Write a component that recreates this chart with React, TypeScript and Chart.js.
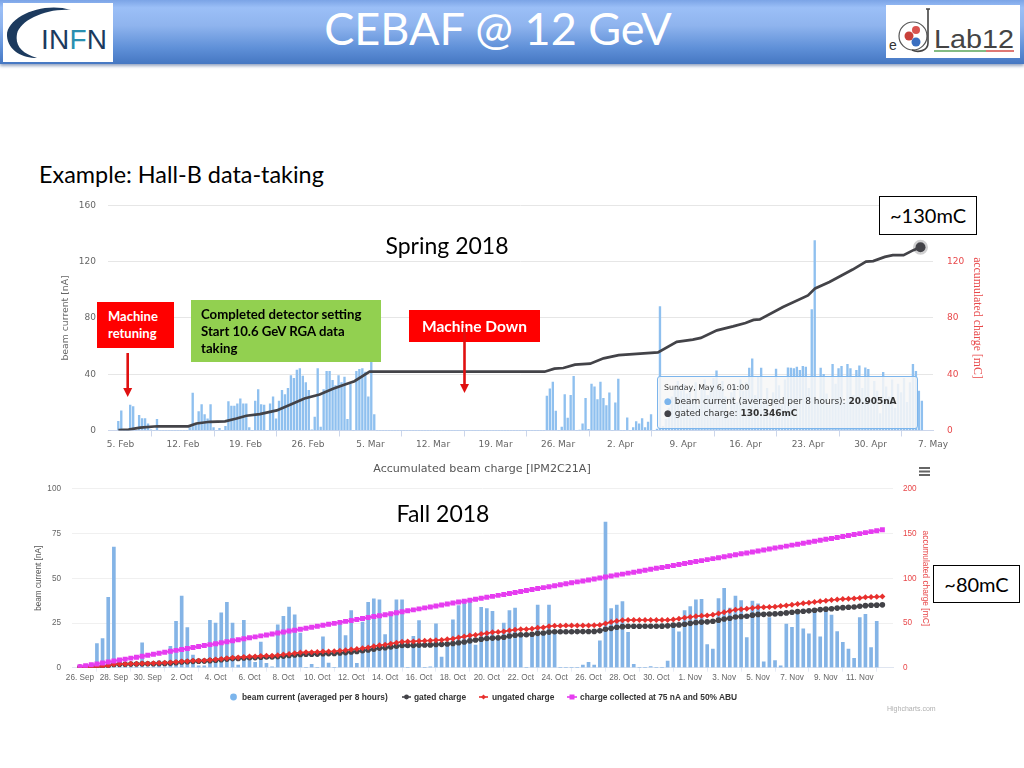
import React, { useEffect, useRef } from "react";
import { Chart, registerables } from "chart.js";

Chart.register(...registerables);

// ---------- Spring 2018 ----------
const springTickLabels = ["5. Feb","12. Feb","19. Feb","26. Feb","5. Mar","12. Mar","19. Mar","26. Mar","2. Apr","9. Apr","16. Apr","23. Apr","30. Apr","7. May"];
// beam current [nA], one value per 8 hour bin
const springBeam = [
  6.6,14,0,0,18,17,0,10.7,8.5,8.5,
  4.7,0.5,0,8,0,0,0,0,0,0,
  0,0,0,0,2,26.6,5,13.5,18.5,11.4,
  8.3,18.5,2,0,1.5,0,3,20.6,17.3,17.3,
  19,22.5,19,19,2,0,21,29,18.5,18,
  0,19,24,8.3,21,28.5,25.6,30,39,37,
  43,44,38.7,34,28.5,0.5,9.5,44,2.4,29,
  42,42,35.6,32,39,34,38,8,33,0,
  42,43.4,44,41.5,24,52,11.4,0,0,0,
  0,0,0,0,0,0,0,0,0,0,
  0,0,0,0,0,0,0,0,0,0,
  0,0,0,0,0,0,0,0,0,0,
  0,0,0,0,0,0,0,0,0,0,
  0,0,0,0,0,0,0,0,0,0,
  0,0,0,0,24.5,29.7,34.4,13.8,0,2.4,
  25.6,8.8,25,38.5,0,0.3,4.7,22.8,0.8,33,
  31,22,34.4,22.8,17.8,26.8,0,19.7,36.6,0,
  0,9,0,2,6.4,4.7,8.5,2,6,11.4,
  0,1,88,3,8,16,24,31,35,28,
  33,26,30,22,34,18,29,36,25,32,
  37,42.5,30,35,24,12,27,33,20,36,
  28,34,44.4,51,25,38,44.4,21,30,14,
  27,43.7,32,18,36,44.6,44.4,44,45,42.7,
  45.6,45,30,86,135,22,44.4,40,26,18,
  47,33,44,45.6,20,47,44,25,42.7,46,
  30,44.6,43.4,22,35,28,12,41.3,31,24,
  36,16,33,27,37,20,34,47,42,28,20.9,
];
// gated charge [mC]: day offset from 5 Feb, and the reading there
const springChargeDays = [-0.24,0.9,2.2,4.1,7.6,8.5,10,11.7,13,14.1,15.6,17.5,19,20.6,22.3,23.8,25.3,26.2,27.9,47.5,48.6,49.6,50.9,52.6,54.1,55.8,57.8,60.2,62.3,64.1,65,66.8,68.6,70,70.9,71.6,74.2,77,77.8,79.4,82,83.5,84.3,85.6,86.5,87.7,88.8,89.6];
const springCharge = [0.3,0.6,2,3,3,5,6.2,6.5,8.5,10.5,11.6,14.3,18.3,22.8,25.6,29.7,33,35,41.8,41.8,44,44.4,46.8,47.5,51.3,53.6,54.4,55.5,63,64.6,65.8,71.2,74,76.4,78.6,79,87.8,96,101,105.6,114.4,120,120.4,123.4,124.6,124.6,128.2,130.3];

// ---------- Fall 2018 ----------
const fallTickLabels = ["26. Sep","28. Sep","30. Sep","2. Oct","4. Oct","6. Oct","8. Oct","10. Oct","12. Oct","14. Oct","16. Oct","18. Oct","20. Oct","22. Oct","24. Oct","26. Oct","28. Oct","30. Oct","1. Nov","3. Nov","5. Nov","7. Nov","9. Nov","11. Nov"];
const fallBeam = [
  0,0,0,13.5,16.3,39.4,67.5,0,0,0,
  0,13.9,0,0.5,4,0.5,12,26,40,22.4,
  7,1,1,26.5,25,30.7,36.5,25,1.5,26.5,
  6,3,14.4,2.4,0.5,24,28.7,33.9,29.6,19.4,
  0,1.9,0,17.2,2.6,0,24.6,18,32,2.4,
  25.5,36.6,38.5,38,18.5,31,38,38,0,17.6,
  26.3,0,0.5,24.6,6,12.6,26.8,34.8,36.3,38,
  12.6,33.7,33,31.5,15.4,25,32,33.3,18,0,
  19,35,19,35,20,0,0,0,0,1.5,
  3,1.5,15,81.4,33,35,37,19.8,1.9,0,
  0,0.6,0,0,3.7,24.6,20,32,34.2,38,
  38.3,13,10.4,38.7,44.4,33.3,40,37.6,16.8,37.2,
  35.7,3.3,28,4,1,24.4,22.6,31,21.8,19,
  32,17.2,33.5,29.4,20.2,14.2,10.4,5.2,28,29.8,
  11.3,25.9,
];
const fallGated = [
  0.5,0.7,0.8,1,1.4,2.2,3.7,3.8,3.9,4,
  4.1,4.3,4.4,4.5,4.7,4.8,5.1,5.6,6.3,6.7,
  7.1,7.3,7.4,7.9,8.4,8.9,9.6,10.2,10.4,10.9,
  11.1,11.3,11.8,11.9,12,12.4,13,13.6,14.3,14.8,
  15,15.1,15.2,15.6,15.8,15.9,16.4,16.9,17.7,18.1,
  18.9,19.8,20.6,21.9,22.4,23.2,24,24.8,24.9,25,
  25.3,25.4,25.5,25.9,26.1,26.5,27.1,27.9,28.8,30,
  31,31.9,32.6,33.1,33.4,34,35.4,36.3,36.8,36.9,
  37.4,38.4,38.8,39.8,40.3,40.3,40.3,40.3,40.4,40.4,
  40.5,40.6,41.2,43,44,45.2,45.9,46.3,46.3,46.3,
  46.4,46.4,46.4,46.5,46.8,47.6,47.9,48.6,49.6,50.5,
  51,51.3,51.9,53.2,54.4,55.4,56.7,57.2,57.6,58.8,
  59.6,59.7,60,60.2,60.7,61.3,62,62.7,63.2,63.6,
  64.3,65,65.5,66,66.7,67.2,67.6,67.9,68.7,69.4,
  69.8,70,70.3,
];
const fallUngated = [
  0.5,0.7,0.9,1.1,1.5,2.3,3.9,4,4.1,4.3,
  4.4,4.6,4.8,5,5.3,5.6,5.9,6.3,6.9,7.3,
  7.7,7.9,8.1,8.7,9.2,9.8,10.5,11.2,11.5,12,
  12.4,12.6,13.2,13.4,13.5,14,14.7,15.4,16.2,16.9,
  17.2,17.4,17.5,18,18.2,18.4,19,19.6,20.4,20.9,
  21.7,22.7,23.9,25.2,25.7,26.9,28,29,29.2,29.4,
  29.9,30.1,30.4,30.8,31.1,31.7,32.5,33.7,34.8,35.9,
  36.6,37.8,38.6,39.6,40,40.6,41.6,42.4,43,43.1,
  43.6,44.7,45.1,46.4,47,47,47.1,47.1,47.2,47.2,
  47.3,47.4,47.9,49.5,51,52.3,53,53.3,53.3,53.3,
  53.3,53.4,53.4,53.4,53.5,54,54.8,55.8,56.8,57.6,
  58,58.5,59.3,60.7,62,63.4,64.8,65.5,66,66.9,
  67.5,67.6,68,68.3,68.9,69.7,70.5,71.3,72,72.6,
  73.4,74.2,75,75.7,76.3,76.9,77.2,77.5,78.1,78.7,
  79.1,79.4,79.7,
];
const fallCollected = [
  1,2.1,3.2,4.2,5.3,6.4,7.5,8.6,9.6,10.7,
  11.8,12.9,14,15,16.1,17.2,18.3,19.4,20.4,21.5,
  22.6,23.7,24.8,25.8,26.9,28,29.1,30.2,31.2,32.3,
  33.4,34.5,35.6,36.6,37.7,38.8,39.9,41,42,43.1,
  44.2,45.3,46.4,47.4,48.5,49.6,50.7,51.8,52.8,53.9,
  55,56.1,57.2,58.2,59.3,60.4,61.5,62.6,63.6,64.7,
  65.8,66.9,68,69,70.1,71.2,72.3,73.4,74.4,75.5,
  76.6,77.7,78.8,79.8,80.9,82,83.1,84.2,85.2,86.3,
  87.4,88.5,89.6,90.6,91.7,92.8,93.9,95,96,97.1,
  98.2,99.3,100.4,101.4,102.5,103.6,104.7,105.8,106.8,107.9,
  109,110.1,111.2,112.2,113.3,114.4,115.5,116.6,117.6,118.7,
  119.8,120.9,122,123,124.1,125.2,126.3,127.4,128.4,129.5,
  130.6,131.7,132.8,133.8,134.9,136,137.1,138.2,139.2,140.3,
  141.4,142.5,143.6,144.6,145.7,146.8,147.9,149,150,151.1,
  152.2,153.3,154.4,
];

const BLUE = "#7cb5ec";
const DARK = "#434348";
const RED = "#e8302e";
const MAGENTA = "#e63cf0";
const AXIS_RED = "#e8484a";

function abs(l: number, t: number, w?: number, h?: number): React.CSSProperties {
  return { position: "absolute", left: l, top: t, width: w, height: h };
}

export default function App() {
  const springRef = useRef<HTMLCanvasElement>(null);
  const fallRef = useRef<HTMLCanvasElement>(null);

  useEffect(() => {
    const lastSpring = springCharge.length - 1;
    const springChart = new Chart(springRef.current!, {
      type: "bar",
      data: {
        datasets: [
          {
            type: "line",
            label: "gated charge",
            data: springChargeDays.map((d, i) => ({ x: d, y: springCharge[i] })),
            yAxisID: "y1",
            borderColor: DARK,
            backgroundColor: DARK,
            borderWidth: 2.7,
            pointRadius: (c: any) => (c.dataIndex === lastSpring ? 5 : 0),
            pointBorderWidth: 5,
            pointBorderColor: "rgba(67,67,72,0.25)",
            pointBackgroundColor: DARK,
            order: 1,
          },
          {
            type: "bar",
            label: "beam current (averaged per 8 hours)",
            data: springBeam.map((v, i) => ({ x: (i - 0.74) / 3, y: v })),
            yAxisID: "y",
            backgroundColor: "#8fc0ef",
            barThickness: 1.7,
            order: 2,
          },
        ],
      } as any,
      options: {
        responsive: false,
        animation: false,
        layout: { padding: { top: 1 } },
        plugins: { legend: { display: false }, tooltip: { enabled: false } },
        scales: {
          x: {
            type: "linear",
            min: -1.4,
            max: 91,
            offset: false,
            afterBuildTicks: (s: any) => { s.ticks = springTickLabels.map((_, i) => ({ value: i * 7 })); },
            afterFit: (s: any) => { s.height = 45.5; },
            grid: { drawOnChartArea: false, drawTicks: true, tickLength: 6, color: "#ccd6eb" },
            border: { color: "#ccd6eb" },
            ticks: {
              autoSkip: false, maxRotation: 0, padding: 3, color: "#666666",
              font: { family: "DejaVu Sans", size: 9 },
              callback: (_v: any, i: number) => springTickLabels[i],
            },
          },
          y: {
            position: "left", min: 0, max: 160,
            afterFit: (s: any) => { s.width = 48; },
            grid: { color: "#e6e6e6", drawTicks: false },
            border: { display: false },
            ticks: { stepSize: 40, padding: 12, color: "#666666", font: { family: "DejaVu Sans", size: 9 } },
            title: { display: true, text: "beam current [nA]", color: "#666666", padding: 0, font: { family: "DejaVu Sans", size: 9.3 } },
          },
          y1: {
            position: "right", min: 0, max: 160,
            afterFit: (s: any) => { s.width = 51; },
            grid: { drawOnChartArea: false, drawTicks: false },
            border: { display: false },
            ticks: {
              stepSize: 40, padding: 14, color: AXIS_RED, font: { family: "DejaVu Sans", size: 9 },
              callback: (v: any) => (v === 160 ? "" : String(v)),
            },
            title: { display: true, text: "accumulated charge [mC]", color: AXIS_RED, padding: 0, font: { family: "Liberation Serif", size: 11.8 } },
          },
        },
      } as any,
    });

    const pts = (arr: number[]) => arr.map((v, i) => ({ x: i / 3, y: v }));
    const fallChart = new Chart(fallRef.current!, {
      type: "bar",
      data: {
        datasets: [
          {
            type: "line", label: "charge collected at 75 nA and 50% ABU", data: pts(fallCollected), yAxisID: "y1",
            borderColor: MAGENTA, backgroundColor: MAGENTA, borderWidth: 2, pointStyle: "rect", pointRadius: 3.5, pointBorderWidth: 0, order: 1,
          },
          {
            type: "line", label: "ungated charge", data: pts(fallUngated), yAxisID: "y1",
            borderColor: RED, backgroundColor: RED, borderWidth: 1.6, pointStyle: "rectRot", pointRadius: 3, pointBorderWidth: 0, order: 2,
          },
          {
            type: "line", label: "gated charge", data: pts(fallGated), yAxisID: "y1",
            borderColor: DARK, backgroundColor: DARK, borderWidth: 1.6, pointStyle: "circle", pointRadius: 2.8, pointBorderWidth: 0, order: 3,
          },
          {
            type: "bar", label: "beam current (averaged per 8 hours)", data: pts(fallBeam), yAxisID: "y",
            backgroundColor: "#84b4e6", barThickness: 3, order: 4,
          },
        ],
      } as any,
      options: {
        responsive: false,
        animation: false,
        layout: { padding: { top: 0.7 } },
        plugins: { legend: { display: false }, tooltip: { enabled: false } },
        scales: {
          x: {
            type: "linear", min: -0.47, max: 47.96, offset: false,
            afterBuildTicks: (s: any) => { s.ticks = fallTickLabels.map((_, i) => ({ value: i * 2 })); },
            afterFit: (s: any) => { s.height = 27.3; },
            grid: { drawOnChartArea: false, drawTicks: true, tickLength: 4, color: "#e6ebf5" },
            border: { color: "#dfe5f0" },
            ticks: {
              autoSkip: false, maxRotation: 0, padding: 1.5, color: "#666666",
              font: { family: "Liberation Sans", size: 8.2 },
              callback: (_v: any, i: number) => fallTickLabels[i],
            },
          },
          y: {
            position: "left", min: 0, max: 100,
            afterFit: (s: any) => { s.width = 38; },
            grid: { color: "#f0f0f0", drawTicks: false },
            border: { display: false },
            ticks: { stepSize: 25, padding: 11, color: "#666666", font: { family: "Liberation Sans", size: 8.2 } },
            title: { display: true, text: "beam current [nA]", color: "#555555", padding: 0, font: { family: "Liberation Sans", size: 8.2 } },
          },
          y1: {
            position: "right", min: 0, max: 200,
            afterFit: (s: any) => { s.width = 37; },
            grid: { drawOnChartArea: false, drawTicks: false },
            border: { display: false },
            ticks: { stepSize: 50, padding: 10, color: AXIS_RED, font: { family: "Liberation Sans", size: 8.2 } },
            title: { display: true, text: "accumulated charge [mC]", color: AXIS_RED, padding: 0, font: { family: "Liberation Sans", size: 8.4 } },
          },
        },
      } as any,
    });

    return () => {
      springChart.destroy();
      fallChart.destroy();
    };
  }, []);

  const lato = "Lato, Carlito, sans-serif";
  const legendStyle: React.CSSProperties = { position: "absolute", top: 691, fontFamily: "Liberation Sans", fontWeight: 700, fontSize: 8.4, lineHeight: "12px", color: "#333333", whiteSpace: "nowrap" };

  return (
    <div style={{ position: "absolute", left: 0, top: 0, width: 1024, height: 768, overflow: "hidden", background: "#ffffff", fontFamily: lato }}>
      {/* Header band */}
      <div style={{ ...abs(0, 0, 1024, 64), background: "linear-gradient(#7ba4e6 0%, #9bbff7 12%, #8fb4ee 40%, #5f90d8 75%, #4577c2 100%)", boxShadow: "0 2px 3px rgba(60,90,140,0.55)" }} />
      <div style={{ ...abs(248, 0, 500, 56), textAlign: "center", color: "#ffffff", fontSize: 45, lineHeight: "56px", whiteSpace: "nowrap" }}>CEBAF @ 12 GeV</div>

      {/* INFN logo */}
      <svg style={abs(3, 3, 110, 59)} viewBox="0 0 110 59">
        <rect x="0" y="0" width="110" height="59" fill="#ffffff" />
        <path d="M 68 7 C 40 -2, 3 14, 4 33 C 5 48, 20 55, 34 55 C 18 50, 12 42, 14 31 C 17 17, 44 5, 68 7 Z" fill="#1c3a5e" />
        <text x="38" y="46" fontFamily="Liberation Sans" fontSize="28" fontWeight="400" fill="#1c3a5e" textLength="66">
          IN<tspan fill="#2a8fb0">F</tspan>N
        </text>
      </svg>

      {/* JLab logo */}
      <svg style={abs(886, 5, 134, 53)} viewBox="0 0 134 53">
        <rect x="0" y="0" width="134" height="53" fill="#ffffff" />
        <ellipse cx="27" cy="31" rx="14" ry="14" fill="none" stroke="#555" strokeWidth="1.2" />
        <circle cx="23" cy="31" r="4.5" fill="#c8403a" />
        <circle cx="30" cy="25" r="4" fill="#d9534f" />
        <circle cx="30" cy="37" r="4.5" fill="#3a6fc0" />
        <path d="M 40 4 L 44 4 M 42 4 L 42 38 C 42 46, 32 48, 26 45" fill="none" stroke="#444" strokeWidth="1.6" />
        <text x="3" y="45" fontFamily="Liberation Sans" fontSize="14" fill="#333">e</text>
        <text x="48" y="43" fontFamily="Liberation Sans" fontSize="26" fill="#444" textLength="80" lengthAdjust="spacingAndGlyphs">Lab12</text>
        <line x1="48" y1="46" x2="100" y2="46" stroke="#5aa55a" strokeWidth="1.4" />
        <line x1="100" y1="46" x2="128" y2="46" stroke="#d0403a" strokeWidth="1.4" />
      </svg>

      <div style={{ ...abs(39, 159), fontSize: 23.4, lineHeight: "30px", color: "#000", whiteSpace: "nowrap" }}>Example: Hall-B data-taking</div>

      <canvas ref={springRef} width={924} height={290} style={abs(60, 186, 924, 290)} />
      <canvas ref={fallRef} width={896} height={222} style={abs(34, 473, 896, 222)} />

      <div style={{ ...abs(342, 461, 280, 16), textAlign: "center", fontFamily: "DejaVu Sans", fontSize: 11.1, lineHeight: "16px", color: "#555555", whiteSpace: "nowrap" }}>Accumulated beam charge [IPM2C21A]</div>

      {/* Series tooltip */}
      <div style={{ ...abs(657, 376, 261, 53), boxSizing: "border-box", border: `1px solid ${BLUE}`, borderRadius: 3, background: "rgba(247,247,247,0.86)", fontFamily: "DejaVu Sans", color: "#333333", fontSize: 9, lineHeight: "12.5px", paddingLeft: 6, paddingTop: 5, whiteSpace: "nowrap" }}>
        <div style={{ fontSize: 7.8 }}>Sunday, May 6, 01:00</div>
        <div><span style={{ color: BLUE }}>●</span> beam current (averaged per 8 hours): <b>20.905nA</b></div>
        <div><span style={{ color: DARK }}>●</span> gated charge: <b>130.346mC</b></div>
      </div>

      {/* Annotations */}
      <div style={{ ...abs(97, 302, 77, 46), background: "#ff0000", color: "#fff", fontWeight: 700, fontSize: 13, lineHeight: "17px", padding: "6px 0 0 11px", boxSizing: "border-box" }}>Machine<br />retuning</div>
      <div style={{ ...abs(191, 300, 190, 62), background: "#92d050", color: "#000", fontWeight: 700, fontSize: 13.2, lineHeight: "17px", padding: "6px 0 0 10px", boxSizing: "border-box", whiteSpace: "nowrap" }}>Completed detector setting<br />Start 10.6 GeV RGA data<br />taking</div>
      <div style={{ ...abs(409, 310, 131, 32), background: "#ff0000", color: "#fff", fontWeight: 700, fontSize: 15.5, lineHeight: "32px", textAlign: "center", whiteSpace: "nowrap" }}>Machine Down</div>
      <svg style={abs(0, 0, 1024, 768)} viewBox="0 0 1024 768" pointerEvents="none">
        <line x1="127.7" y1="353" x2="127.7" y2="390" stroke="#e01010" strokeWidth="2.6" />
        <polygon points="123.2,388 132.2,388 127.7,397" fill="#e01010" />
        <line x1="464.5" y1="328" x2="464.5" y2="386" stroke="#e01010" strokeWidth="2.6" />
        <polygon points="460,384 469,384 464.5,393" fill="#e01010" />
      </svg>

      <div style={{ ...abs(347, 230, 200, 30), textAlign: "center", fontSize: 23, lineHeight: "30px", color: "#000" }}>Spring 2018</div>
      <div style={{ ...abs(343, 498, 200, 30), textAlign: "center", fontSize: 23, lineHeight: "30px", color: "#000" }}>Fall 2018</div>

      <div style={{ ...abs(879, 196, 98, 39), boxSizing: "border-box", border: "1px solid #000", background: "#fff", textAlign: "center", fontSize: 20, lineHeight: "37px", color: "#000" }}>~130mC</div>
      <div style={{ ...abs(933, 565, 87, 38), boxSizing: "border-box", border: "1px solid #000", background: "#fff", textAlign: "center", fontSize: 20, lineHeight: "36px", color: "#000" }}>~80mC</div>

      {/* Menu icon */}
      <svg style={abs(918, 466, 13, 11)} viewBox="0 0 13 11">
        <rect x="1" y="1" width="11" height="2" fill="#666" />
        <rect x="1" y="4.5" width="11" height="2" fill="#666" />
        <rect x="1" y="8" width="11" height="2" fill="#666" />
      </svg>

      {/* Legend of the fall chart */}
      <svg style={abs(228, 691, 360, 12)} viewBox="228 691 360 12">
        <circle cx="233.5" cy="697" r="3.4" fill={BLUE} />
        <line x1="402" y1="697" x2="411" y2="697" stroke={DARK} strokeWidth="1.6" />
        <circle cx="406.5" cy="697" r="2.4" fill={DARK} />
        <line x1="479" y1="697" x2="488" y2="697" stroke={RED} strokeWidth="1.6" />
        <polygon points="483.5,694.5 486,697 483.5,699.5 481,697" fill={RED} />
        <line x1="567" y1="697" x2="577" y2="697" stroke={MAGENTA} strokeWidth="1.6" />
        <rect x="569.5" y="694.5" width="5" height="5" fill={MAGENTA} />
      </svg>
      <div style={{ ...legendStyle, left: 242 }}>beam current (averaged per 8 hours)</div>
      <div style={{ ...legendStyle, left: 414 }}>gated charge</div>
      <div style={{ ...legendStyle, left: 492 }}>ungated charge</div>
      <div style={{ ...legendStyle, left: 580 }}>charge collected at 75 nA and 50% ABU</div>

      <div style={{ ...abs(887, 703), fontFamily: "Liberation Sans", fontSize: 7, lineHeight: "12px", color: "#b0b0b0", whiteSpace: "nowrap" }}>Highcharts.com</div>
    </div>
  );
}
